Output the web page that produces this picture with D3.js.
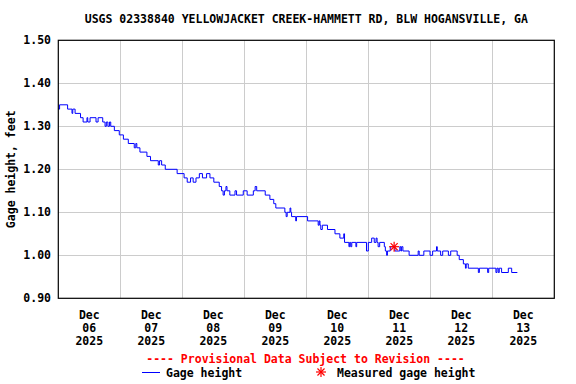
<!DOCTYPE html>
<html>
<head>
<meta charset="utf-8">
<script src="https://cdn.jsdelivr.net/npm/d3@7"></script>
<style>
	body { margin: 0; background: white; }
	text { font-family: "DejaVu Sans Mono", monospace; font-weight: bold; font-size: 11.5px; }
</style>
</head>
<body>
<div id="chart"></div>
<script>

var title = "USGS 02338840 YELLOWJACKET CREEK-HAMMETT RD, BLW HOGANSVILLE, GA";

// hours after Dec 06 2025 00:00 where the gage reading changes (step data)
var hours = [0, 0.5, 3.6, 5.3, 5.6, 6.5, 8.6, 9.6, 11.1, 11.4, 12.3, 14.6, 15.4, 17.2, 18.1, 18.6, 19.2, 19.8, 20.3, 21.7,
	23.6, 25.2, 27.1, 29.4, 30.0, 30.4, 31.6, 34.3, 35.7, 38.7, 39.2, 40.0, 41.4, 46.0, 48.7, 49.9, 51.2, 52.2, 53.3, 54.6,
	55.8, 57.4, 58.7, 60.2, 62.3, 63.2, 63.8, 64.3, 64.9, 65.3, 66.4, 68.4, 69.0, 71.6, 73.1, 75.5, 76.2, 76.8, 80.1, 81.9,
	83.4, 84.2, 87.7, 88.2, 88.6, 89.7, 90.0, 90.3, 91.9, 92.2, 96.5, 100.6, 101.0, 101.3, 101.6, 102.2, 104.2, 107.1, 109.0, 110.5,
	110.8, 112.5, 112.8, 113.2, 113.6, 115.2, 115.5, 119.3, 120.0, 121.3, 122.3, 123.0, 123.4, 123.8, 124.4, 126.2, 126.6, 127.1, 127.4, 128.5,
	130.3, 132.2, 132.6, 132.9, 133.4, 135.8, 139.3, 139.7, 141.5, 143.9, 144.9, 146.4, 146.7, 148.0, 148.8, 151.0, 151.9, 154.4, 155.2, 156.8,
	157.6, 157.9, 158.7, 162.6, 163.0, 166.2, 166.6, 169.4, 169.8, 170.3, 170.7, 171.6, 174.2, 175.5, 177.7];
var gage = [1.34, 1.35, 1.34, 1.33, 1.34, 1.33, 1.32, 1.31, 1.32, 1.31, 1.32, 1.31, 1.32, 1.31, 1.30, 1.31, 1.30, 1.31, 1.30, 1.29,
	1.28, 1.27, 1.26, 1.25, 1.26, 1.25, 1.24, 1.23, 1.22, 1.21, 1.22, 1.21, 1.20, 1.19, 1.18, 1.17, 1.18, 1.17, 1.18, 1.19,
	1.18, 1.19, 1.18, 1.17, 1.16, 1.15, 1.14, 1.15, 1.16, 1.15, 1.14, 1.15, 1.14, 1.15, 1.14, 1.15, 1.16, 1.15, 1.14, 1.13,
	1.12, 1.11, 1.10, 1.09, 1.10, 1.11, 1.10, 1.09, 1.08, 1.09, 1.08, 1.07, 1.08, 1.07, 1.06, 1.07, 1.06, 1.05, 1.04, 1.05,
	1.03, 1.02, 1.03, 1.02, 1.03, 1.02, 1.03, 1.01, 1.03, 1.04, 1.03, 1.04, 1.03, 1.02, 1.03, 1.02, 1.01, 1.00, 1.01, 1.02,
	1.01, 1.02, 1.01, 1.02, 1.01, 1.00, 1.01, 1.00, 1.01, 1.00, 1.01, 1.02, 1.01, 1.00, 1.01, 1.00, 1.01, 1.00, 0.99, 0.98,
	0.97, 0.98, 0.97, 0.96, 0.97, 0.96, 0.97, 0.96, 0.97, 0.96, 0.97, 0.96, 0.97, 0.96, 0.96];

var measuredHours = [130.0];
var measuredGage = [1.02];

var yTicks = [0.90, 1.00, 1.10, 1.20, 1.30, 1.40, 1.50];
var dayLabels = ["06", "07", "08", "09", "10", "11", "12", "13"];

var width = 576;
var height = 384;
var plotLeft = 58.3, plotRight = 554.3, plotTop = 40.3, plotBottom = 298.3;

var start = Date.UTC(2025, 11, 6);
var hourMs = 3600 * 1000;

var svg = d3.select("#chart")
	.append("svg")
	.attr("width", width)
	.attr("height", height);

var xScale = d3.scaleUtc()
	.domain([new Date(start), new Date(start + 8 * 24 * hourMs)])
	.range([plotLeft, plotRight]);

var yScale = d3.scaleLinear()
	.domain([0.90, 1.50])
	.range([plotBottom, plotTop]);

var midnights = d3.range(1, 8).map(function(d) { return new Date(start + d * 24 * hourMs); });
var noons = dayLabels.map(function(d, i) { return new Date(start + (i * 24 + 12) * hourMs); });

// grid
svg.append("g")
	.selectAll("line")
	.data(yTicks.slice(1, -1))
	.enter()
	.append("line")
	.attr("x1", plotLeft)
	.attr("x2", plotRight)
	.attr("y1", function(d) { return Math.round(yScale(d)) + 0.5; })
	.attr("y2", function(d) { return Math.round(yScale(d)) + 0.5; })
	.attr("stroke", "#cccccc")
	.attr("stroke-width", 1);

svg.append("g")
	.selectAll("line")
	.data(midnights)
	.enter()
	.append("line")
	.attr("x1", function(d) { return Math.round(xScale(d)) + 0.5; })
	.attr("x2", function(d) { return Math.round(xScale(d)) + 0.5; })
	.attr("y1", plotTop)
	.attr("y2", plotBottom)
	.attr("stroke", "#cccccc")
	.attr("stroke-width", 1);

// y labels
svg.append("g")
	.selectAll("text")
	.data(yTicks)
	.enter()
	.append("text")
	.attr("x", 51)
	.attr("y", function(d) { return yScale(d) + 4; })
	.attr("text-anchor", "end")
	.text(function(d) { return d3.format(".2f")(d); });

// x labels
var xl = svg.append("g")
	.selectAll("text")
	.data(noons)
	.enter()
	.append("text")
	.attr("text-anchor", "middle");
xl.append("tspan")
	.attr("x", function(d) { return xScale(d); })
	.attr("y", 319)
	.text("Dec");
xl.append("tspan")
	.attr("x", function(d) { return xScale(d); })
	.attr("y", 332)
	.text(function(d, i) { return dayLabels[i]; });
xl.append("tspan")
	.attr("x", function(d) { return xScale(d); })
	.attr("y", 345)
	.text("2025");

// data line
var series = hours.map(function(h, i) {
	return { time: new Date(start + h * hourMs), value: gage[i] };
});

var line = d3.line()
	.x(function(d) { return xScale(d.time); })
	.y(function(d) { return yScale(d.value); })
	.curve(d3.curveStepAfter);

svg.append("path")
	.datum(series)
	.attr("d", line)
	.attr("fill", "none")
	.attr("stroke", "#0000ff")
	.attr("stroke-width", 1);

// asterisk marker
function star(g, cx, cy, r) {
	[0, 45, 90, 135].forEach(function(a) {
		var rad = a * Math.PI / 180;
		g.append("line")
			.attr("x1", cx - r * Math.cos(rad))
			.attr("y1", cy - r * Math.sin(rad))
			.attr("x2", cx + r * Math.cos(rad))
			.attr("y2", cy + r * Math.sin(rad))
			.attr("stroke", "#ff0000")
			.attr("stroke-width", 1.2);
	});
}

measuredHours.forEach(function(h, i) {
	star(svg.append("g"), xScale(new Date(start + h * hourMs)), yScale(measuredGage[i]), 5);
});

// frame
svg.append("rect")
	.attr("x", plotLeft)
	.attr("y", plotTop)
	.attr("width", plotRight - plotLeft)
	.attr("height", plotBottom - plotTop)
	.attr("fill", "none")
	.attr("stroke", "black")
	.attr("stroke-width", 1.2);

// titles
svg.append("text")
	.attr("x", (plotLeft + plotRight) / 2)
	.attr("y", 23)
	.attr("text-anchor", "middle")
	.text(title);

svg.append("text")
	.attr("transform", "translate(15," + ((plotTop + plotBottom) / 2) + ") rotate(-90)")
	.attr("text-anchor", "middle")
	.text("Gage height, feet");

// legend
svg.append("text")
	.attr("x", 305.5)
	.attr("y", 363)
	.attr("text-anchor", "middle")
	.attr("fill", "#ff0000")
	.text("---- Provisional Data Subject to Revision ----");

svg.append("line")
	.attr("x1", 142)
	.attr("x2", 160)
	.attr("y1", 372.5)
	.attr("y2", 372.5)
	.attr("stroke", "#0000ff")
	.attr("stroke-width", 1);

svg.append("text")
	.attr("x", 166)
	.attr("y", 377)
	.text("Gage height");

star(svg.append("g"), 321, 372, 5);

svg.append("text")
	.attr("x", 337)
	.attr("y", 377)
	.text("Measured gage height");

</script>
</body>
</html>
